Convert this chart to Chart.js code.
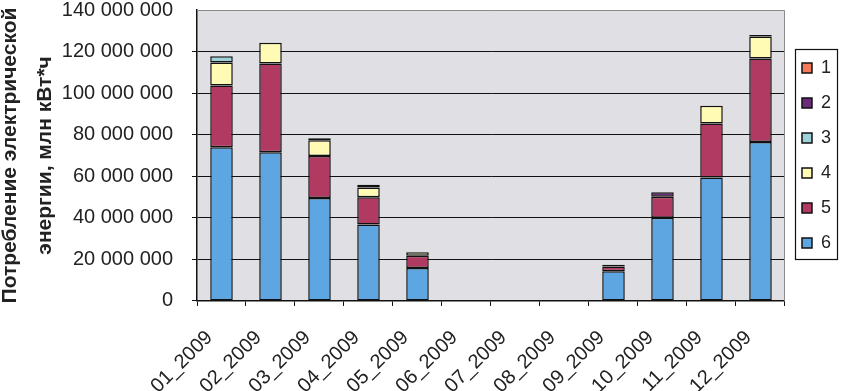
<!DOCTYPE html>
<html><head><meta charset="utf-8">
<script src="https://cdn.jsdelivr.net/npm/chart.js@4/dist/chart.umd.min.js"></script>
<style>
html,body{margin:0;padding:0;background:#fff;overflow:hidden}
#wrap{width:847px;height:391px;position:relative;overflow:hidden}
#holder{position:absolute;left:-8px;top:-21px;width:856px;height:439px}
</style>
</head><body><div id="wrap"><div id="holder"><canvas id="c"></canvas></div></div>
<script>
const categories = ['01_2009','02_2009','03_2009','04_2009','05_2009','06_2009','07_2009','08_2009','09_2009','10_2009','11_2009','12_2009'];
const seriesNames = ['1','2','3','4','5','6'];
const seriesColors = ['#F47A5C','#6B2A7A','#9DD2DA','#FFFBB5','#B03A62','#5EA6E2'];
// values in kWh
const s1 = [null,null,null,null,null,null,null,null,null,null,null,null];
const s2 = [null,null,1.0e6,1.3e6,null,null,null,null,0.8e6,2.1e6,null,0.8e6];
const s3 = [2.9e6,null,null,null,null,null,null,null,null,null,null,null];
const s4 = [11.1e6,10.1e6,7.6e6,4.7e6,1.8e6,null,null,null,null,null,8.5e6,10.5e6];
const s5 = [29.7e6,42.6e6,20.1e6,13.1e6,5.8e6,null,null,null,2.3e6,10.1e6,26.0e6,40.2e6];
const s6 = [74.0e6,71.6e6,49.6e6,36.8e6,15.9e6,null,null,null,14.3e6,40.1e6,59.4e6,76.5e6];
const yMin = 0, yMax = 140e6, yStep = 20e6;
const yTitle = ['Потребление электрической','энергии, млн кВт*ч'];

const seriesData = [s1,s2,s3,s4,s5,s6];
// stack bottom-up: 6,5,4,3,2,1
const datasets = [];
for (let i = 5; i >= 0; i--) {
  datasets.push({
    label: seriesNames[i],
    data: seriesData[i],
    backgroundColor: seriesColors[i],
    borderColor: '#111',
    borderWidth: 1.5,
    borderSkipped: false,
    categoryPercentage: 1,
    barPercentage: 0.46
  });
}

const fmt = v => String(Math.round(v)).replace(/\B(?=(\d{3})+(?!\d))/g, ' ');
const FONT = 'Liberation Sans, Arial, sans-serif';

const plotBg = {
  id: 'plotBg',
  afterLayout(chart) {
    const l = chart.legend, a = chart.chartArea;
    if (l && a) { l.top = a.top; l.bottom = a.bottom; l.height = a.bottom - a.top; }
  },
  beforeDraw(chart) {
    const {ctx, chartArea: a} = chart;
    ctx.save();
    ctx.fillStyle = '#E0E0E4';
    ctx.fillRect(a.left, a.top, a.right - a.left, a.bottom - a.top);
    ctx.restore();
  },
  afterDraw(chart) {
    const {ctx, chartArea: a} = chart;
    ctx.save();
    ctx.strokeStyle = '#8a8a8a';
    ctx.lineWidth = 1;
    ctx.beginPath();
    ctx.moveTo(a.left, a.top + 0.5);
    ctx.lineTo(a.right - 0.5, a.top + 0.5);
    ctx.lineTo(a.right - 0.5, a.bottom);
    ctx.stroke();
    // legend frame
    const hb = chart.legend.legendHitBoxes;
    if (hb && hb.length) {
      const f = hb[0], l = hb[hb.length - 1];
      const x0 = Math.min(...hb.map(h => h.left)) - 7;
      const x1 = Math.max(...hb.map(h => h.left + h.width)) + 6;
      const y0 = f.top - 10, y1 = l.top + l.height + 7;
      ctx.strokeStyle = '#111';
      ctx.lineWidth = 1.2;
      ctx.strokeRect(Math.round(x0) + 0.5, Math.round(y0) + 0.5, Math.round(x1 - x0), Math.round(y1 - y0));
    }
    ctx.restore();
  }
};

new Chart(document.getElementById('c'), {
  type: 'bar',
  data: { labels: categories, datasets },
  options: {
    responsive: true,
    maintainAspectRatio: false,
    animation: false,
    devicePixelRatio: 1,
    layout: { padding: { top: 0, right: 7, bottom: 0, left: 0 } },
    plugins: {
      tooltip: { enabled: false },
      legend: {
        position: 'right',
        reverse: true,
        labels: {
          boxWidth: 10, boxHeight: 10, padding: 17,
          color: '#222',
          font: { family: FONT, size: 18 }
        }
      }
    },
    scales: {
      x: {
        stacked: true,
        grid: { drawOnChartArea: false, drawTicks: true, tickLength: 5, color: '#111', offset: true },
        border: { color: '#111', width: 1.5 },
        ticks: {
          color: '#222', minRotation: 45, maxRotation: 45, autoSkip: false,
          padding: 20, labelOffset: -12,
          font: { family: FONT, size: 20 }
        }
      },
      y: {
        stacked: true,
        min: yMin, max: yMax,
        afterFit: s => { s.width = 205; },
        grid: { color: ctx => (ctx.tick && ctx.tick.value === yMax) ? 'rgba(0,0,0,0)' : '#111', lineWidth: 1, tickLength: 5 },
        border: { color: '#111', width: 1.5 },
        ticks: {
          stepSize: yStep, color: '#222', padding: 19,
          font: { family: FONT, size: 20 },
          callback: v => fmt(v)
        },
        title: {
          display: true, text: yTitle, color: '#222',
          font: { family: FONT, size: 21, weight: 'bold', lineHeight: 1.7 },
          padding: { top: 0, bottom: 0 }
        }
      }
    }
  },
  plugins: [plotBg]
});
</script>
</body></html>
